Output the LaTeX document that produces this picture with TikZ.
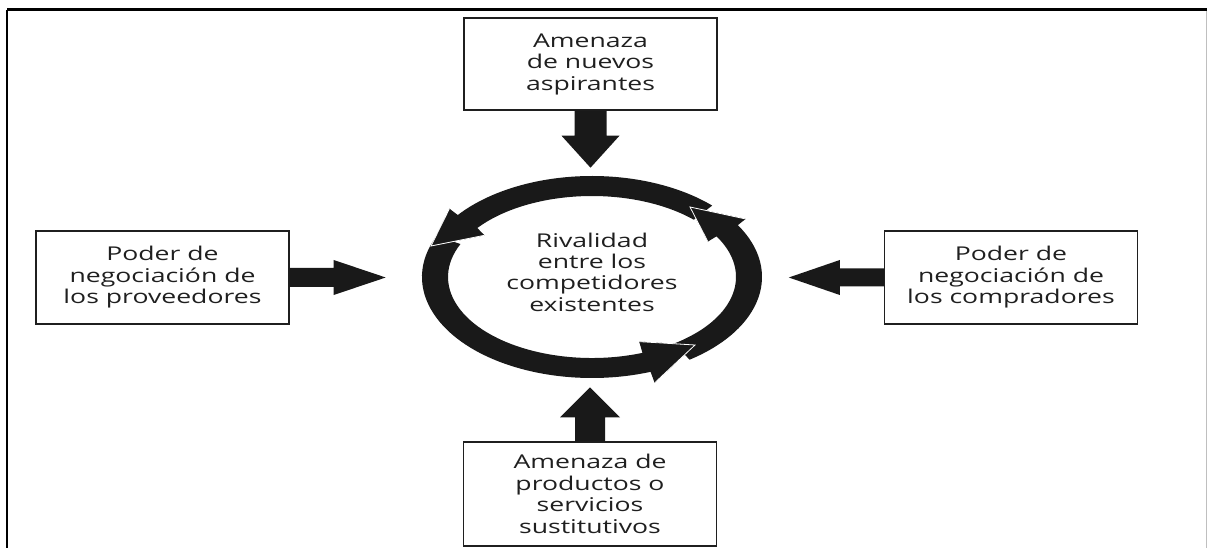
\documentclass[tikz,border=0pt]{standalone}
\usepackage{fontspec}
\newfontfamily\porterfont[FakeStretch=1.4]{Open Sans}
\usetikzlibrary{calc,positioning}

\begin{document}
\begin{tikzpicture}[x=1pt,y=-1pt,
	fuerza/.style={draw=black!88, line width=1.4pt, minimum width=253pt,
		inner sep=0pt, align=center, text=black!88,
		font=\porterfont\fontsize{19}{21.5}\selectfont},
	bloque/.style={fill=black!90},
	]
	\useasboundingbox (0,0) rectangle (1208,548);
	
	% marco
	\draw[line width=3pt] (7,10) -- (1207,10);
	\draw[line width=2.4pt] (7,10) -- (7,548);
	\draw[black!25, line width=0.8pt] (1206.5,11) -- (1206.5,548);
	
	% cajas
	\coordinate (O) at (592,277);
	\node[fuerza, minimum height=92pt] (nuevos) at (590.5,64) {Amenaza\\de nuevos\\aspirantes};
	\node[fuerza, minimum height=93pt] (proveedores) at (162.5,277.5) {Poder de\\negociación de\\los proveedores};
	\node[fuerza, minimum height=93pt] (compradores) at (1011,277.5) {Poder de\\negociación de\\los compradores};
	\node[fuerza, minimum height=104pt] (sustitutos) at (590,494) {Amenaza de\\productos o\\servicios\\sustitutivos};
	\node[align=center, inner sep=0pt, text=black!88,
		font=\porterfont\fontsize{19}{21.3}\selectfont] (rivalidad) at (592,272)
		{Rivalidad\\entre los\\competidores\\existentes};
	
	% flechas
	\coordinate (tN) at ($(nuevos.south)+(0,57)$);
	\coordinate (tS) at ($(sustitutos.north)+(0,-54)$);
	\coordinate (tP) at ($(proveedores.east)+(96,0)$);
	\coordinate (tC) at ($(compradores.west)+(-95,0)$);
	
	\fill[bloque] ($(nuevos.south)+(-16,0)$) -- ($(nuevos.south)+(-16,25)$) -- ($(nuevos.south)+(-29,25)$)
		-- (tN) -- ($(nuevos.south)+(29,25)$) -- ($(nuevos.south)+(16,25)$) -- ($(nuevos.south)+(16,0)$) -- cycle;
	\fill[bloque] ($(sustitutos.north)+(-15,0)$) -- ($(sustitutos.north)+(-15,-24)$) -- ($(sustitutos.north)+(-30,-24)$)
		-- (tS) -- ($(sustitutos.north)+(30,-24)$) -- ($(sustitutos.north)+(15,-24)$) -- ($(sustitutos.north)+(15,0)$) -- cycle;
	\fill[bloque] ($(proveedores.east)+(0,-9.5)$) -- ($(proveedores.east)+(44,-9.5)$) -- ($(proveedores.east)+(44,-17.5)$)
		-- (tP) -- ($(proveedores.east)+(44,17.5)$) -- ($(proveedores.east)+(44,9.5)$) -- ($(proveedores.east)+(0,9.5)$) -- cycle;
	\fill[bloque] ($(compradores.west)+(0,-9)$) -- ($(compradores.west)+(-44,-9)$) -- ($(compradores.west)+(-44,-17.5)$)
		-- (tC) -- ($(compradores.west)+(-44,17.5)$) -- ($(compradores.west)+(-44,9)$) -- ($(compradores.west)+(0,9)$) -- cycle;
	
	% anillo
	\coordinate (puntaA) at (431,246);
	\coordinate (puntaB) at (690,207);
	\coordinate (puntaC) at (695,345);
	
	\foreach \s/\e/\p in {204/69.5/puntaC, 55/-30.9/puntaB, -45/-142.8/puntaA}{
		\fill[bloque] ($(O)+(\s:170 and 101)$) arc[start angle=\s, end angle=\e, x radius=170, y radius=101]
			-- ($(O)+(\e:179 and 113)$) -- (\p) -- ($(O)+(\e:135 and 69)$) -- ($(O)+(\e:144 and 81)$)
			arc[start angle=\e, end angle=\s, x radius=144, y radius=81] -- cycle;}
	
	\foreach \e/\p in {69.5/puntaC, -30.9/puntaB, -142.8/puntaA}{
		\fill[bloque] ($(O)+(\e:179 and 113)$) -- (\p) -- ($(O)+(\e:135 and 69)$) -- cycle;
		\draw[white, line width=0.8pt] ($(O)+(\e:179 and 113)$) -- (\p) -- ($(O)+(\e:135 and 69)$);}
\end{tikzpicture}
\end{document}
